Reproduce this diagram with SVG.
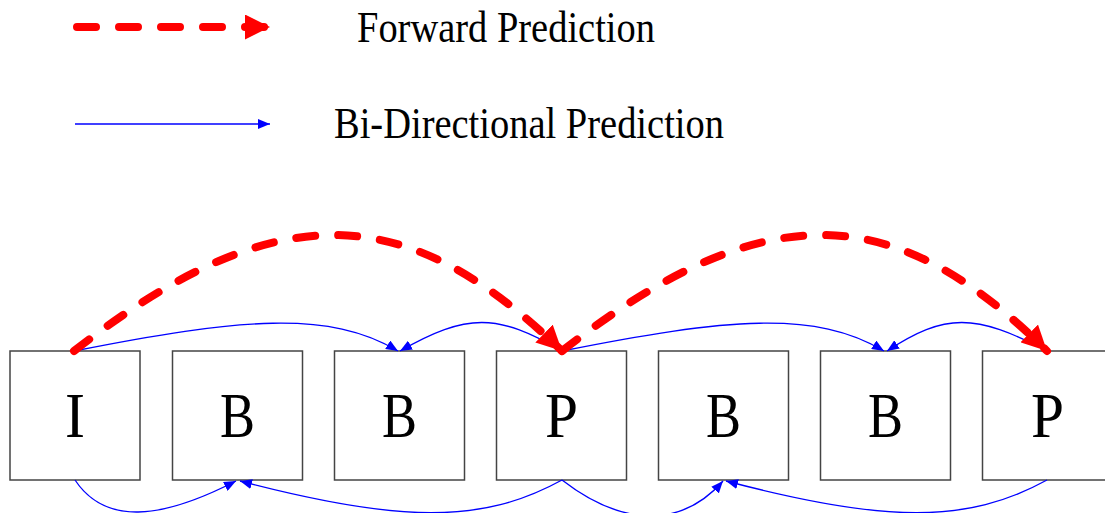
<svg xmlns="http://www.w3.org/2000/svg" width="1105" height="513" viewBox="0 0 1105 513">
<style>
.box{fill:#fff;stroke:#444;stroke-width:1.5}
.lbl{font-family:"Liberation Serif","Times New Roman",serif;font-size:63px;fill:#000;text-anchor:middle}
.leg{font-family:"Liberation Serif","Times New Roman",serif;font-size:45px;fill:#000}
.fwd{fill:none;stroke:#ff0000;stroke-width:8;stroke-linecap:round;stroke-dasharray:19 23;marker-end:url(#ra)}
.bi{fill:none;stroke:#0000ff;stroke-width:1.3;marker-end:url(#ba)}
</style>
<defs>
<marker id="ra" markerUnits="userSpaceOnUse" markerWidth="25" markerHeight="25" viewBox="0 0 25 25" refX="25" refY="12.5" orient="auto">
<path d="M0,0 L25,12.5 L0,25 Z" fill="#ff0000"/>
</marker>
<marker id="ba" markerUnits="userSpaceOnUse" markerWidth="12" markerHeight="10" viewBox="0 0 12 10" refX="12" refY="5" orient="auto">
<path d="M0,0 L12,5 L0,10 Z" fill="#0000ff"/>
</marker>
</defs>
<rect width="1105" height="513" fill="#fff"/>
<g id="legend">
<path class="fwd" d="M77,27 H270"/>
<text class="leg" x="357" y="42" textLength="298" lengthAdjust="spacingAndGlyphs">Forward Prediction</text>
<path class="bi" d="M75,124 H270"/>
<text class="leg" x="334" y="138" textLength="390" lengthAdjust="spacingAndGlyphs">Bi-Directional Prediction</text>
</g>
<g id="n1"><rect class="box" x="10" y="351" width="130" height="129"/><text class="lbl" x="75" y="437" textLength="20" lengthAdjust="spacingAndGlyphs">I</text></g>
<g id="n2"><rect class="box" x="172.5" y="351" width="130" height="129"/><text class="lbl" x="237.5" y="437" textLength="35" lengthAdjust="spacingAndGlyphs">B</text></g>
<g id="n3"><rect class="box" x="334.5" y="351" width="130" height="129"/><text class="lbl" x="399.5" y="437" textLength="35" lengthAdjust="spacingAndGlyphs">B</text></g>
<g id="n4"><rect class="box" x="496.5" y="351" width="130" height="129"/><text class="lbl" x="561.5" y="437" textLength="33" lengthAdjust="spacingAndGlyphs">P</text></g>
<g id="n5"><rect class="box" x="658.5" y="351" width="130" height="129"/><text class="lbl" x="723.5" y="437" textLength="35" lengthAdjust="spacingAndGlyphs">B</text></g>
<g id="n6"><rect class="box" x="820.5" y="351" width="130" height="129"/><text class="lbl" x="885.5" y="437" textLength="35" lengthAdjust="spacingAndGlyphs">B</text></g>
<g id="n7"><rect class="box" x="982.5" y="351" width="130" height="129"/><text class="lbl" x="1047.5" y="437" textLength="33" lengthAdjust="spacingAndGlyphs">P</text></g>
<g id="connectors">
<path class="bi" d="M74,351 C240,318 330,310 398,351"/>
<path class="bi" d="M562,351 C497,313 467,313 400,351"/>
<path class="bi" d="M562,351 C727,318 816,310 884,351"/>
<path class="bi" d="M1047,351 C975,313 945,313 887,351"/>
<path class="bi" d="M75,480 C105,525 160,520 236,481"/>
<path class="bi" d="M562,480 C482,524 400,523 240,481"/>
<path class="bi" d="M562,480 C620,525 680,530 723,481"/>
<path class="bi" d="M1047,480 C967,524 885,523 726,481"/>
<path class="fwd" d="M74,351 C283,188 411,205 562,351"/>
<path class="fwd" d="M562,351 C771,188 899,205 1047,351"/>
</g>
</svg>
